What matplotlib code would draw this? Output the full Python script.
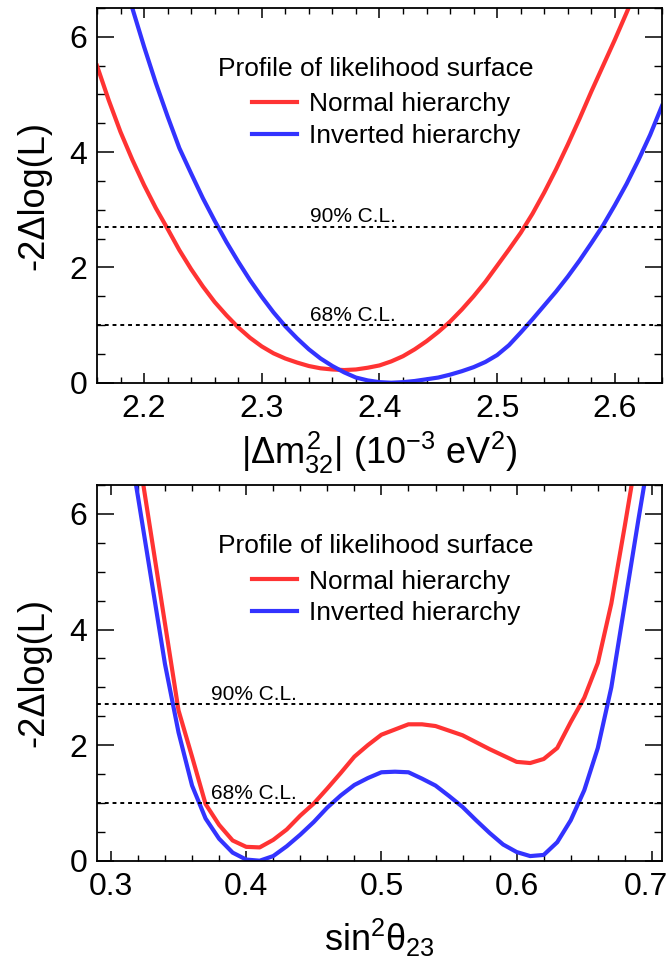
import numpy as np
import matplotlib
matplotlib.use("Agg")
import matplotlib.pyplot as plt
import matplotlib.transforms as mtransforms
from matplotlib.ticker import MultipleLocator

# top panel: |dm2_32| scan (10^-3 eV^2)
dm2_nh_x = [2.16, 2.17, 2.18, 2.19, 2.20, 2.21, 2.22, 2.23, 2.24, 2.25, 2.26, 2.27,
            2.28, 2.29, 2.30, 2.31, 2.32, 2.33, 2.34, 2.35, 2.36, 2.37, 2.38, 2.39,
            2.40, 2.41, 2.42, 2.43, 2.44, 2.45, 2.46, 2.47, 2.48, 2.49, 2.50, 2.51,
            2.52, 2.53, 2.54, 2.55, 2.56, 2.57, 2.58, 2.59, 2.60, 2.61, 2.62]
dm2_nh = [5.50, 4.90, 4.35, 3.87, 3.43, 3.03, 2.67, 2.30, 1.97, 1.67, 1.40, 1.17,
          0.96, 0.78, 0.63, 0.51, 0.42, 0.35, 0.29, 0.25, 0.23, 0.22, 0.23, 0.26,
          0.30, 0.37, 0.46, 0.58, 0.72, 0.88, 1.06, 1.27, 1.50, 1.75, 2.03, 2.31,
          2.60, 2.93, 3.30, 3.70, 4.13, 4.58, 5.05, 5.50, 5.95, 6.42, 6.90]
dm2_ih_x = [2.19, 2.20, 2.21, 2.22, 2.23, 2.24, 2.25, 2.26, 2.27, 2.28, 2.29, 2.30,
            2.31, 2.32, 2.33, 2.34, 2.35, 2.36, 2.37, 2.38, 2.39, 2.40, 2.41, 2.42,
            2.43, 2.44, 2.45, 2.46, 2.47, 2.48, 2.49, 2.50, 2.51, 2.52, 2.53, 2.54,
            2.55, 2.56, 2.57, 2.58, 2.59, 2.60, 2.61, 2.62, 2.63, 2.64]
dm2_ih = [6.50, 5.83, 5.20, 4.62, 4.07, 3.63, 3.20, 2.81, 2.44, 2.10, 1.78, 1.49,
          1.22, 0.98, 0.77, 0.58, 0.42, 0.29, 0.18, 0.09, 0.04, 0.01, 0.00, 0.01,
          0.03, 0.06, 0.09, 0.14, 0.20, 0.27, 0.36, 0.48, 0.65, 0.87, 1.10, 1.34,
          1.58, 1.84, 2.12, 2.42, 2.73, 3.08, 3.45, 3.86, 4.30, 4.80]

# bottom panel: sin^2(theta_23) scan
s23_nh_x = [0.32, 0.33, 0.34, 0.35, 0.36, 0.37, 0.38, 0.39, 0.40, 0.41, 0.42, 0.43,
            0.44, 0.45, 0.46, 0.47, 0.48, 0.49, 0.50, 0.51, 0.52, 0.53, 0.54, 0.55,
            0.56, 0.57, 0.58, 0.59, 0.60, 0.61, 0.62, 0.63, 0.64, 0.65, 0.66, 0.67,
            0.68, 0.69]
s23_nh = [7.10, 5.60, 4.10, 2.60, 1.80, 0.98, 0.62, 0.35, 0.24, 0.23, 0.36, 0.54,
          0.78, 0.99, 1.25, 1.52, 1.80, 2.00, 2.18, 2.27, 2.36, 2.36, 2.33, 2.25,
          2.17, 2.05, 1.93, 1.82, 1.71, 1.69, 1.76, 1.95, 2.40, 2.82, 3.42, 4.45,
          5.80, 7.20]
s23_ih_x = [0.315, 0.32, 0.33, 0.34, 0.35, 0.36, 0.37, 0.38, 0.39, 0.40, 0.41, 0.42,
            0.43, 0.44, 0.45, 0.46, 0.47, 0.48, 0.49, 0.50, 0.51, 0.52, 0.53, 0.54,
            0.55, 0.56, 0.57, 0.58, 0.59, 0.60, 0.61, 0.62, 0.63, 0.64, 0.65, 0.66,
            0.67, 0.68, 0.69, 0.70]
s23_ih = [7.00, 6.30, 4.85, 3.40, 2.22, 1.30, 0.73, 0.38, 0.14, 0.02, 0.00, 0.08,
          0.25, 0.45, 0.67, 0.92, 1.13, 1.31, 1.43, 1.53, 1.54, 1.53, 1.42, 1.30,
          1.12, 0.93, 0.70, 0.48, 0.28, 0.15, 0.08, 0.10, 0.32, 0.70, 1.22, 1.95,
          3.00, 4.45, 5.90, 7.30]

cl_levels = [1.0, 2.71]
cl_names = ["68% C.L.", "90% C.L."]

red = "#ff3333"
blue = "#3333ff"

plt.rcParams["font.family"] = ["Liberation Sans", "DejaVu Sans"]
plt.rcParams["mathtext.fontset"] = "custom"
plt.rcParams["mathtext.rm"] = "Liberation Sans"
plt.rcParams["mathtext.it"] = "Liberation Sans"
plt.rcParams["mathtext.bf"] = "Liberation Sans:bold"
plt.rcParams["axes.linewidth"] = 1.3
plt.rcParams["xtick.direction"] = "in"
plt.rcParams["ytick.direction"] = "in"
plt.rcParams["xtick.top"] = True
plt.rcParams["ytick.right"] = True

fig = plt.figure(figsize=(6.72, 9.66), dpi=100)
ax1 = fig.add_axes([0.1443, 0.6038, 0.8407, 0.3879])
ax2 = fig.add_axes([0.1443, 0.1090, 0.8407, 0.3889])

panels = [
    (ax1, dm2_nh_x, dm2_nh, dm2_ih_x, dm2_ih, (2.16, 2.64), 2.341,
     r"$|\Delta m^{2}_{32}|$ (10$^{-3}$ eV$^{2}$)", -0.125, [2.2, 2.3, 2.4, 2.5, 2.6]),
    (ax2, s23_nh_x, s23_nh, s23_ih_x, s23_ih, (0.2897, 0.7074), 0.374,
     r"sin$^{2}\theta_{23}$", -0.15, [0.3, 0.4, 0.5, 0.6, 0.7]),
]

for ax, xr, yr, xi, yi, xlim, tx, xlab, xlab_y, xt in panels:
    ax.plot(xr, yr, color=red, lw=3.0, label="Normal hierarchy", solid_joinstyle="round")
    ax.plot(xi, yi, color=blue, lw=3.0, label="Inverted hierarchy", solid_joinstyle="round")
    for lev, name in zip(cl_levels, cl_names):
        ax.axhline(lev, color="black", lw=1.4, ls=(0, (2, 2)))
        ax.text(tx, lev + 0.07, name, fontsize=15, va="baseline", ha="left")
    ax.set_xlim(*xlim)
    ax.set_ylim(0, 6.5)
    ax.set_xticks(xt)
    ax.set_xticklabels([f"{v:.1f}" for v in xt])
    ax.xaxis.set_minor_locator(MultipleLocator(0.02))
    ax.yaxis.set_major_locator(MultipleLocator(2))
    ax.yaxis.set_minor_locator(MultipleLocator(0.5))
    ax.tick_params(axis="x", which="major", length=7.5, width=1.1, labelsize=23, pad=8)
    ax.tick_params(axis="x", which="minor", length=4, width=1.0)
    ax.tick_params(axis="y", which="major", length=12, width=1.1, labelsize=23, pad=7)
    ax.tick_params(axis="y", which="minor", length=6, width=1.0)
    ax.set_ylabel("-2Δlog(L)", fontsize=26)
    ax.yaxis.set_label_coords(-0.08, 0.5)
    ax.set_xlabel(xlab, fontsize=26)
    ax.xaxis.set_label_coords(0.5, xlab_y)
    ax.text(0.494, 0.8185, "Profile of likelihood surface", transform=ax.transAxes,
            fontsize=19, ha="center", va="baseline")
    leg = ax.legend(loc="center left", bbox_to_anchor=(0.274, 0.701), frameon=False,
                    fontsize=19, handlelength=1.7, handletextpad=0.45,
                    labelspacing=0.29, borderpad=0, borderaxespad=0)
    for h in leg.legend_handles:
        h.set_linewidth(3.0)

# keep the last sin^2 label inside the canvas, as in the reference
shift = mtransforms.ScaledTranslation(-6 / 100, 0, fig.dpi_scale_trans)
last = ax2.get_xticklabels()[-1]
last.set_transform(last.get_transform() + shift)

fig.savefig("out.png", dpi=100)
